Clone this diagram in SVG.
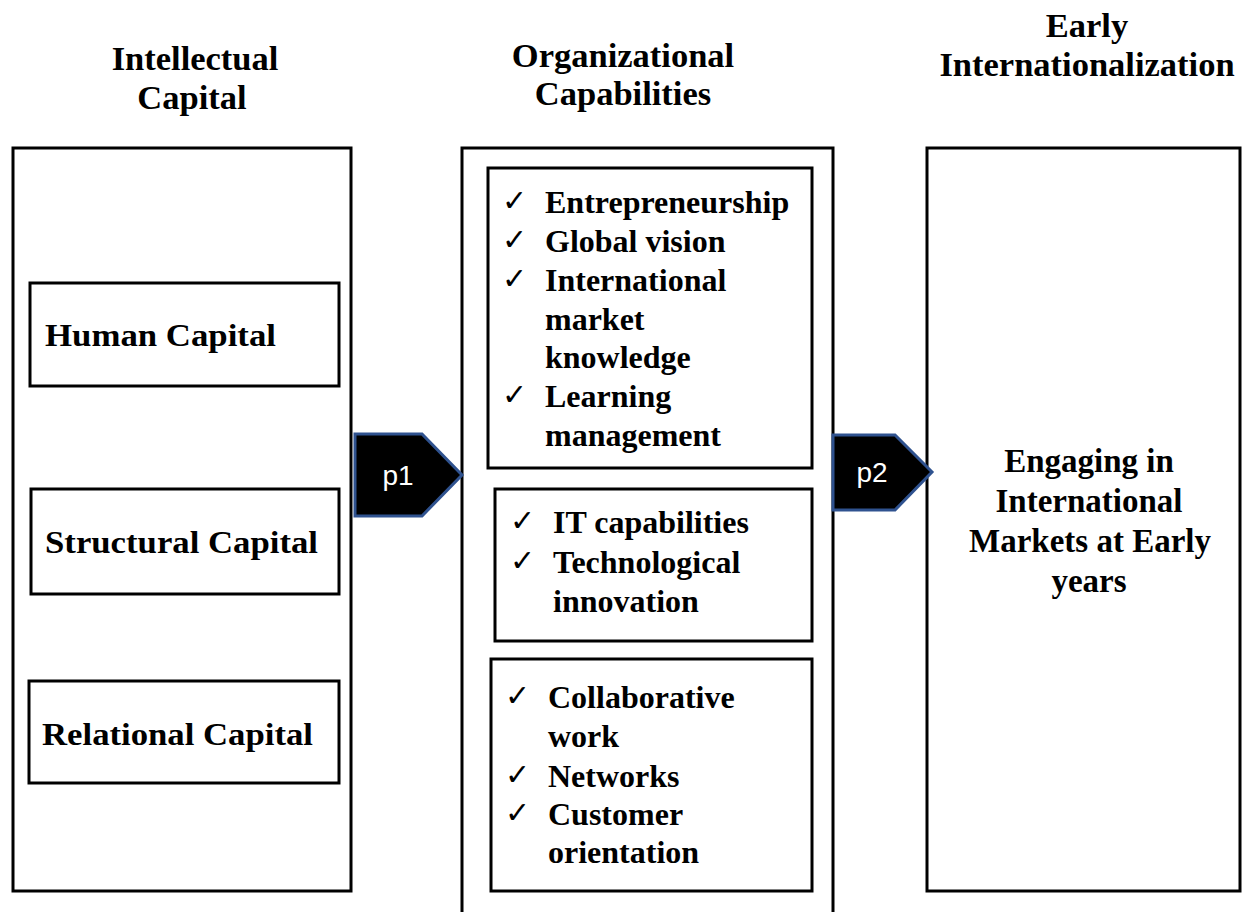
<svg xmlns="http://www.w3.org/2000/svg" width="1251" height="912" viewBox="0 0 1251 912">
<style>
.box{fill:#fff;stroke:#000;stroke-width:3}
.t{font-family:"Liberation Serif","Times New Roman",serif;font-weight:bold;fill:#000}
.h{font-size:34.5px;text-anchor:middle}
.m{font-size:33px;text-anchor:middle}
.n{font-size:32px}
.li{font-size:32px}
.ck{font-family:"DejaVu Sans",sans-serif;font-size:30px;fill:#000}
.arr{fill:#000;stroke:#2F528F;stroke-width:3;stroke-linejoin:miter}
.p{font-family:"Liberation Sans",Arial,sans-serif;font-size:28px;fill:#fff;text-anchor:middle}
</style>
<rect width="1251" height="912" fill="#fff"/>
<g id="titles">
<text class="t h" x="195" y="70">Intellectual</text>
<text class="t h" x="192" y="109">Capital</text>
<text class="t h" x="623" y="67">Organizational</text>
<text class="t h" x="623" y="105">Capabilities</text>
<text class="t h" x="1087" y="37">Early</text>
<text class="t h" x="1087" y="76">Internationalization</text>
</g>
<g id="intellectual-capital">
<rect class="box" x="13" y="148" width="338" height="743"/>
</g>
<g id="human-capital">
<rect class="box" x="30" y="283" width="309" height="103"/>
<text class="t n" x="45" y="346" textLength="231" lengthAdjust="spacingAndGlyphs">Human Capital</text>
</g>
<g id="structural-capital">
<rect class="box" x="31" y="489" width="308" height="105"/>
<text class="t n" x="45" y="553" textLength="273" lengthAdjust="spacingAndGlyphs">Structural Capital</text>
</g>
<g id="relational-capital">
<rect class="box" x="29" y="681" width="310" height="102"/>
<text class="t n" x="42" y="745" textLength="271" lengthAdjust="spacingAndGlyphs">Relational Capital</text>
</g>
<g id="organizational-capabilities">
<rect class="box" x="462" y="148" width="371" height="780"/>
</g>
<g id="capabilities-1">
<rect class="box" x="488" y="168" width="324" height="300"/>
<text class="ck" x="502" y="211">✓</text>
<text class="t li" x="545" y="213">Entrepreneurship</text>
<text class="ck" x="502" y="250">✓</text>
<text class="t li" x="545" y="252">Global vision</text>
<text class="ck" x="502" y="289">✓</text>
<text class="t li" x="545" y="291">International</text>
<text class="t li" x="545" y="330">market</text>
<text class="t li" x="545" y="368">knowledge</text>
<text class="ck" x="502" y="405">✓</text>
<text class="t li" x="545" y="407">Learning</text>
<text class="t li" x="545" y="446">management</text>
</g>
<g id="capabilities-2">
<rect class="box" x="495" y="489" width="317" height="152"/>
<text class="ck" x="510" y="531">✓</text>
<text class="t li" x="553" y="533">IT capabilities</text>
<text class="ck" x="510" y="571">✓</text>
<text class="t li" x="553" y="573">Technological</text>
<text class="t li" x="553" y="612">innovation</text>
</g>
<g id="capabilities-3">
<rect class="box" x="491" y="659" width="321" height="232"/>
<text class="ck" x="505" y="706">✓</text>
<text class="t li" x="548" y="708">Collaborative</text>
<text class="t li" x="548" y="747">work</text>
<text class="ck" x="505" y="785">✓</text>
<text class="t li" x="548" y="787">Networks</text>
<text class="ck" x="505" y="823">✓</text>
<text class="t li" x="548" y="825">Customer</text>
<text class="t li" x="548" y="863">orientation</text>
</g>
<g id="early-internationalization">
<rect class="box" x="927" y="148" width="313" height="743"/>
<text class="t m" x="1089" y="472">Engaging in</text>
<text class="t m" x="1089" y="512">International</text>
<text class="t m" x="1090" y="552">Markets at Early</text>
<text class="t m" x="1089" y="592">years</text>
</g>
<g id="connectors">
<g id="p1">
<polygon class="arr" points="355,434 422,434 462,475 422,516 355,516"/>
<text class="p" x="398" y="485">p1</text>
</g>
<g id="p2">
<polygon class="arr" points="833,435 895,435 932,472 895,510 833,510"/>
<text class="p" x="872" y="482">p2</text>
</g>
</g>
</svg>
